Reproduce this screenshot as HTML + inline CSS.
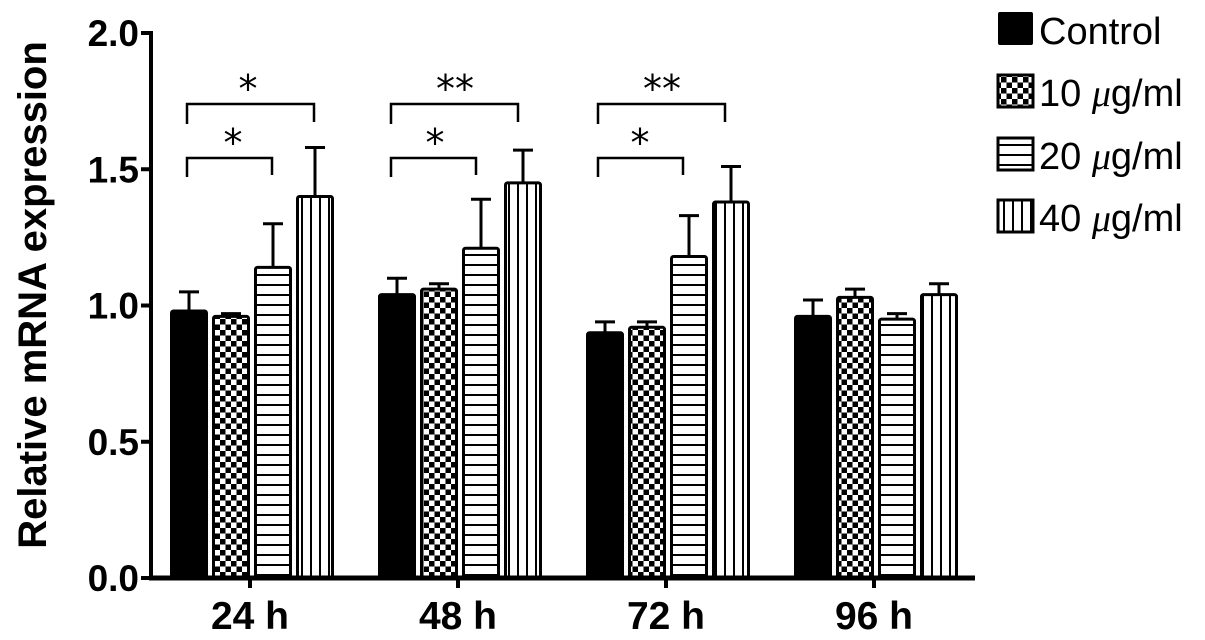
<!DOCTYPE html>
<html><head><meta charset="utf-8"><style>
html,body{margin:0;padding:0;background:#fff;}
svg{display:block;font-family:"Liberation Sans",sans-serif;}
</style></head><body>
<svg id="chart" width="1205" height="640" viewBox="0 0 1205 640">
<defs>
<pattern id="pChk" width="11" height="11" patternUnits="userSpaceOnUse">
<rect width="11" height="11" fill="#fff"/><rect width="5.5" height="5.5" fill="#000"/><rect x="5.5" y="5.5" width="5.5" height="5.5" fill="#000"/>
</pattern>
<pattern id="pHor" width="10" height="10" patternUnits="userSpaceOnUse">
<rect width="10" height="10" fill="#fff"/><rect y="4" width="10" height="2" fill="#000"/>
</pattern>
<pattern id="pVer" width="9" height="10" patternUnits="userSpaceOnUse">
<rect width="9" height="10" fill="#fff"/><rect x="4" width="2" height="10" fill="#000"/>
</pattern>
</defs>
<g id="bars"></g>
<g id="axes"></g>
<text transform="translate(46,295) rotate(-90)" text-anchor="middle" font-weight="bold" font-size="40">Relative mRNA expression</text>
<g stroke="#000" stroke-width="2.5" fill="none">
<path d="M187,124 V104 H314 V122"/><path d="M187,177 V158 H272 V175"/>
<path d="M391,124 V104 H518 V122"/><path d="M391,177 V158 H476 V175"/>
<path d="M598,124 V104 H725 V122"/><path d="M598,177 V158 H683 V175"/>
</g>
<g font-size="38" text-anchor="middle" font-family="DejaVu Sans,sans-serif">
<text x="248" y="102">*</text><text x="233" y="156">*</text>
<text x="455" y="102">**</text><text x="435" y="156">*</text>
<text x="662" y="102">**</text><text x="640" y="156">*</text>
</g>
<g font-size="38">
<g><rect x="998" y="12" width="35" height="33" rx="2" fill="#000"/><text x="1039" y="44">Control</text></g>
<g><rect x="998" y="75" width="35" height="32" fill="url(#pChk)" stroke="#000" stroke-width="3"/><text x="1039" y="106">10 <tspan font-family="Liberation Serif" font-style="italic">μ</tspan>g/ml</text></g>
<g><rect x="998" y="138" width="35" height="32" fill="url(#pHor)" stroke="#000" stroke-width="3"/><text x="1039" y="169">20 <tspan font-family="Liberation Serif" font-style="italic">μ</tspan>g/ml</text></g>
<g><rect x="998" y="200" width="35" height="32" fill="url(#pVer)" stroke="#000" stroke-width="3"/><text x="1039" y="231">40 <tspan font-family="Liberation Serif" font-style="italic">μ</tspan>g/ml</text></g>
</g>
</svg>
<script>
const categories = ["24 h","48 h","72 h","96 h"];
const seriesNames = ["Control","10 ug/ml","20 ug/ml","40 ug/ml"];
const controlVals = [0.98,1.04,0.90,0.96];
const d10Vals = [0.96,1.06,0.92,1.03];
const d20Vals = [1.14,1.21,1.18,0.95];
const d40Vals = [1.40,1.45,1.38,1.04];
const controlErr = [0.07,0.06,0.04,0.06];
const d10Err = [0.01,0.02,0.02,0.03];
const d20Err = [0.16,0.18,0.15,0.02];
const d40Err = [0.18,0.12,0.13,0.04];
const yTicks = [0,0.5,1.0,1.5,2.0];
const yTickLabels = ["0.0","0.5","1.0","1.5","2.0"];

const NS="http://www.w3.org/2000/svg";
const x0=151, y0=578, yTop=33, yMax=2.0;
const groupStart=170, groupStep=208, barW=38, barStep=42;
function yScale(v){return y0-(v/yMax)*(y0-yTop);}
function xBar(g,s){return groupStart+g*groupStep+s*barStep;}
function mk(tag,attrs,parent){const e=document.createElementNS(NS,tag);for(const k in attrs)e.setAttribute(k,attrs[k]);parent.appendChild(e);return e;}
const barsG=document.getElementById('bars'), axesG=document.getElementById('axes');
const vals=[controlVals,d10Vals,d20Vals,d40Vals], errs=[controlErr,d10Err,d20Err,d40Err];
const fills=["#000","url(#pChk)","url(#pHor)","url(#pVer)"];
for(let g=0;g<categories.length;g++){
 for(let s=0;s<4;s++){
  const v=vals[s][g], e=errs[s][g], x=xBar(g,s), cx=x+barW/2;
  const eb=mk('path',{d:`M${cx},${yScale(v)} V${yScale(v+e)} M${cx-10},${yScale(v+e)} H${cx+10}`,stroke:'#000','stroke-width':3,fill:'none'},barsG);
  
  
  const r=mk('rect',{x:x+1.5,y:yScale(v),width:barW-3,height:y0-yScale(v),fill:fills[s],stroke:'#000','stroke-width':3,rx:2},barsG);
  
  
 }
 const cx=groupStart+g*groupStep+80;
 const t=mk('line',{x1:cx,x2:cx,y1:y0,y2:588,stroke:'#000','stroke-width':4},axesG);
 
 
 const l=mk('text',{x:cx,y:629,'text-anchor':'middle','font-size':39,'font-weight':'bold'},axesG);
 l.textContent=categories[g];
 
 
}
const ya=mk('line',{x1:x0,x2:x0,y1:yTop-2,y2:y0+2,stroke:'#000','stroke-width':4},axesG);


const xa=mk('line',{x1:x0-2,x2:975,y1:y0,y2:y0,stroke:'#000','stroke-width':5},axesG);


yTicks.forEach((v,i)=>{
 const t=mk('line',{x1:x0-10,x2:x0,y1:yScale(v),y2:yScale(v),stroke:'#000','stroke-width':4},axesG);
 
 
 const l=mk('text',{x:x0-12,y:yScale(v)+13,'text-anchor':'end','font-size':37,'font-weight':'bold'},axesG);
 l.textContent=yTickLabels[i];
 
 
});
</script>
</body></html>
